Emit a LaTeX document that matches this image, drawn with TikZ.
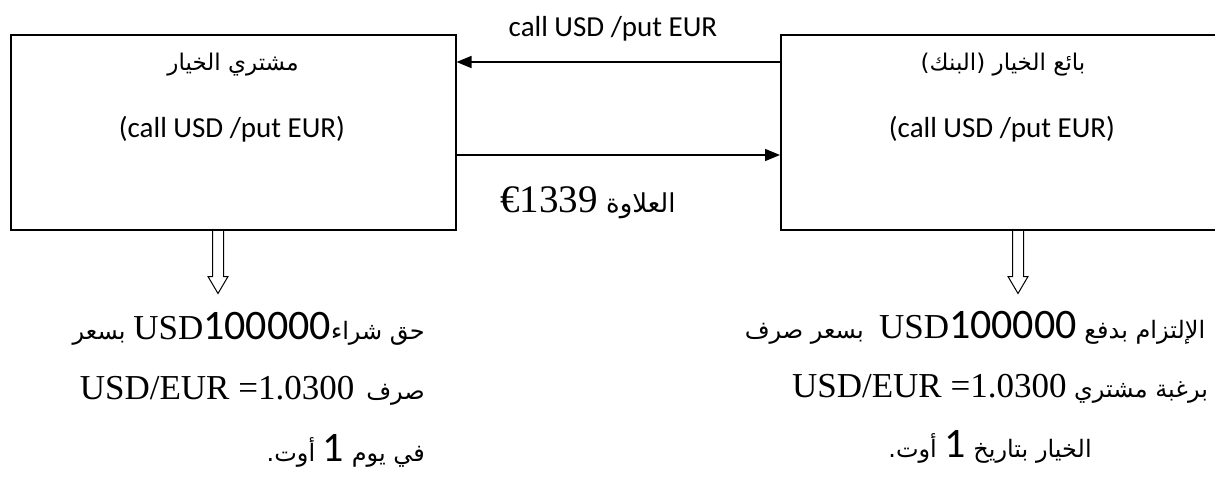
\documentclass[tikz,border=0pt]{standalone}
\usepackage{fontspec}
\setmainfont{Carlito}
\newfontfamily\arfont[Script=Arabic]{DejaVu Sans}
\newfontfamily\tnrfont{Liberation Serif}
\newfontfamily\digfont{Carlito}
\TeXXeTstate=1
\usetikzlibrary{arrows.meta}
\newcommand\latfont{\tnrfont\fontsize{35}{44}\selectfont}
\newcommand\bigdig{\digfont\fontsize{42}{44}\selectfont}
\newcommand\bodyfont{\arfont\fontsize{24}{34}\selectfont}
\newcommand\leftone{\beginR حق شراء\beginL{\latfont USD}{\bigdig 100000}\endL{} بسعر\endR}
\newcommand\lefttwo{\beginR صرف\beginL{\latfont USD/EUR =1.0300}\endL\endR}
\newlength\lw
\newlength\lwtwo
\newlength\gapw
\tikzset{
  box/.style={draw, line width=1.5pt, inner sep=0pt, minimum width=445pt, minimum height=195pt, anchor=north west},
  flow/.style={line width=1.5pt, -{Triangle[length=15pt,width=12pt]}},
  hollow/.style={line width=1pt, line join=miter},
  lbl/.style={inner sep=0pt, font=\fontsize{29}{34}\selectfont},
  arbox/.style={inner sep=0pt, font=\arfont\fontsize{23}{28}\selectfont},
  body/.style={inner sep=0pt, font=\bodyfont},
}
\begin{document}
\begin{tikzpicture}[x=1pt,y=-1pt]
\useasboundingbox (0,0) rectangle (1215,477);
\clip (0,0) rectangle (1215,477);
\node[box] (buyer) at (10,34) {};
\node[box] (seller) at (780,34) {};
% box texts
\node[arbox, anchor=base] (buyername) at (233,70) {\beginR مشتري الخيار\endR};
\node[lbl, anchor=base] (buyeropt) at (232,137) {(call USD /put EUR)};
\node[arbox, anchor=base] (sellername) at (1003,70) {\beginR بائع الخيار (البنك)\endR};
\node[lbl, anchor=base] (selleropt) at (1002,137) {(call USD /put EUR)};
% connectors
\draw[flow] ([yshift=-28pt]seller.north west) -- ([yshift=-28pt]buyer.north east);
\draw[flow] ([yshift=-121pt]buyer.north east) -- ([yshift=-121pt]seller.north west);
\node[lbl, anchor=base] (calllbl) at (613,36) {call USD /put EUR};
\node[inner sep=0pt, anchor=base] (prem) at (588,212) {\arfont\fontsize{26}{30}\selectfont\beginR العلاوة \beginL{\tnrfont\fontsize{39}{44}\selectfont €1339}\endL\endR};
% hollow arrows
\coordinate (bs) at ([xshift=208pt]buyer.south west);
\coordinate (ss) at ([xshift=238pt]seller.south west);
\draw[hollow] (bs) ++(-5.5,0) -- ++(0,46) -- ++(-4.5,0) -- ++(10,17) -- ++(10,-17) -- ++(-4.5,0) -- ++(0,-46);
\draw[hollow] (ss) ++(-5.5,0) -- ++(0,46) -- ++(-4.5,0) -- ++(10,17) -- ++(10,-17) -- ++(-4.5,0) -- ++(0,-46);
% bottom texts, buyer side (justified, right aligned)
\settowidth{\lw}{\bodyfont\leftone}
\settowidth{\lwtwo}{\bodyfont\lefttwo}
\setlength{\gapw}{\dimexpr\lw-\lwtwo\relax}
\ifdim\gapw<12pt \setlength{\gapw}{12pt}\fi
\node[body, anchor=base east] (bl1) at (425,339) {\leftone};
\node[body, anchor=base east] (bl2) at (425,399) {\beginR صرف\hspace{\gapw}\beginL{\latfont USD/EUR =1.0300}\endL\endR};
\node[body, anchor=base east] (bl3) at (425,461) {\beginR في يوم \beginL{\bigdig 1}\endL{} أوت.\endR};
% bottom texts, seller side (centred)
\node[body, anchor=base] (br1) at (975,338) {\beginR الإلتزام بدفع \beginL{\latfont USD}{\bigdig 100000}\endL\ \ بسعر صرف\endR};
\node[body, anchor=base] (br2) at (1000,397) {\beginR برغبة مشتري \beginL{\latfont USD/EUR =1.0300}\endL\endR};
\node[body, anchor=base] (br3) at (990,457) {\beginR الخيار بتاريخ \beginL{\bigdig 1}\endL{} أوت.\endR};
\end{tikzpicture}
\end{document}
